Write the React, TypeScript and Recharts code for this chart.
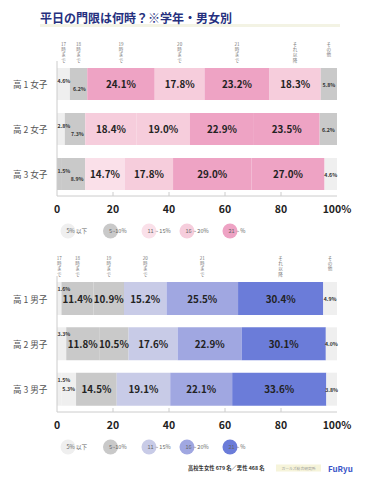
import React from 'react';
import { BarChart, Bar, XAxis, YAxis, Cell, LabelList } from 'recharts';

const headers = ['17時まで', '18時まで', '19時まで', '20時まで', '21時まで', 'それ以降', 'その他'];
const tickPercents = [0, 20, 40, 60, 80, 100];
const tickLabels = ['0', '20', '40', '60', '80', '100%'];
const legendLabels = ['5% 以下', '5~10%', '11 ~ 15%', '16 ~ 20%', '21 ~ %'];

const femaleRows = ['高 1 女子', '高 2 女子', '高 3 女子'];
const female1 = [4.6, 6.2, 24.1, 17.8, 23.2, 18.3, 5.8];
const female2 = [2.8, 7.3, 18.4, 19.0, 22.9, 23.5, 6.2];
const female3 = [1.5, 8.9, 14.7, 17.8, 29.0, 27.0, 4.6];

const maleRows = ['高 1 男子', '高 2 男子', '高 3 男子'];
const male1 = [1.6, 11.4, 10.9, 15.2, 25.5, 30.4, 4.9];
const male2 = [3.3, 11.8, 10.5, 17.6, 22.9, 30.1, 4.0];
const male3 = [1.5, 5.3, 14.5, 19.1, 22.1, 33.6, 3.8];

// shade of each segment: 0 = 5%以下, 1 = 5~10%, 2 = 11~15%, 3 = 16~20%, 4 = 21~%
const femaleShades = [[0, 1, 4, 3, 4, 3, 1], [0, 1, 3, 3, 4, 4, 1], [1, 1, 2, 3, 4, 4, 0]];
const maleShades = [[0, 1, 1, 2, 3, 4, 0], [0, 1, 1, 2, 3, 4, 0], [0, 0, 1, 2, 3, 4, 0]];

const pinkPalette = ['#efefef', '#c9c9c9', '#fae0e9', '#f6cddc', '#eea3c4'];
const bluePalette = ['#efefef', '#c9c9c9', '#c8cbe7', '#a0a7e1', '#6b7cd9'];

const FONT = "'Noto Sans CJK JP', 'Noto Sans', sans-serif";

const buildTable = (names: string[], rows: number[][]) =>
  names.map((name, r) => {
    const o: any = { name };
    rows[r].forEach((v, i) => (o['s' + i] = v));
    return o;
  });

type SmallOpts = { firstDy: number; secondAnchor: 'start' | 'end'; secondDy: number };

const makeLabel = (rows: number[][], si: number, opts: SmallOpts) => (props: any) => {
  const vb = props.viewBox || props;
  const x = Number(vb.x ?? props.x);
  const y = Number(vb.y ?? props.y);
  const width = Number(vb.width ?? props.width);
  const height = Number(vb.height ?? props.height);
  const r = props.index ?? 0;
  const v = rows[r][si];
  const cy = y + height / 2;
  const txt = v.toFixed(1) + '%';
  const parts: any[] = [];

  if (r === 0) {
    const lines = headers[si].match(/\d+|./g) || [];
    lines.forEach((ln, i) => {
      parts.push(
        <text key={'h' + i} x={x + width / 2} y={y - 22 + i * 5.2} textAnchor="middle"
          fontSize={4.6} fill="#777" fontFamily={FONT}>{ln}</text>
      );
    });
  }

  if (v < 10) {
    let tx = x + width / 2;
    let ty = cy;
    let anchor: 'start' | 'middle' | 'end' = 'middle';
    if (si === 0) {
      tx = x + 0.5;
      ty = cy + opts.firstDy;
      anchor = 'start';
    } else if (si === 1) {
      anchor = opts.secondAnchor;
      tx = anchor === 'end' ? x + width - 1.5 : x + 1;
      ty = cy + opts.secondDy;
    }
    parts.push(
      <text key="v" x={tx} y={ty} textAnchor={anchor} dominantBaseline="central"
        fontSize={5.2} fontWeight={700} fill="#333" fontFamily={FONT}>{txt}</text>
    );
  } else {
    parts.push(
      <text key="v" x={x + width / 2} y={cy} textAnchor="middle" dominantBaseline="central"
        fontSize={9.8} fontWeight={700} fill="#222" fontFamily={FONT}>{txt}</text>
    );
  }
  return <g>{parts}</g>;
};

const RowTick = (props: any) => (
  <text x={13} y={props.y} dominantBaseline="central" fontSize={8.6} fill="#555" fontFamily={FONT}>
    {props.payload.value}
  </text>
);

const PercentTick = (props: any) => {
  const i = tickPercents.indexOf(Math.round(props.payload.value * 100));
  return (
    <g>
      {i > 0 && i < tickPercents.length - 1 && (
        <line x1={props.x} x2={props.x} y1={props.y - 4} y2={props.y} stroke="#ccc" />
      )}
      <text x={props.x} y={props.y + 12.5} textAnchor="middle" dominantBaseline="central"
        fontSize={10.5} fontWeight={700} fill="#222" fontFamily={FONT}>
        {tickLabels[i]}
      </text>
    </g>
  );
};

type ChartProps = {
  names: string[];
  rows: number[][];
  shades: number[][];
  palette: string[];
  barSize: number;
  xHeight: number;
  small: SmallOpts;
};

const StackChart = ({ names, rows, shades, palette, barSize, xHeight, small }: ChartProps) => {
  const data = buildTable(names, rows);
  return (
    <BarChart width={370} height={230} data={data} layout="vertical" stackOffset="expand"
      margin={{ top: 61, right: 33, bottom: 0, left: 0 }}>
      <XAxis type="number" domain={[0, 1]} ticks={tickPercents.map((t) => t / 100)}
        tick={<PercentTick />} tickLine={false} tickSize={0} tickMargin={0}
        axisLine={{ stroke: '#ccc' }} height={xHeight} interval={0} />
      <YAxis type="category" dataKey="name" width={57} tick={<RowTick />} tickLine={false}
        axisLine={{ stroke: '#ccc' }} />
      {headers.map((h, si) => (
        <Bar key={h} dataKey={'s' + si} stackId="a" barSize={barSize} isAnimationActive={false}>
          {names.map((n, r) => (
            <Cell key={n} fill={palette[shades[r][si]]} />
          ))}
          <LabelList dataKey={'s' + si} content={makeLabel(rows, si, small)} />
        </Bar>
      ))}
    </BarChart>
  );
};

const Legend = ({ cy, palette }: { cy: number; palette: string[] }) => {
  const cxs = [68, 110.5, 149, 187, 230];
  return (
    <g>
      {legendLabels.map((l, i) => (
        <g key={l}>
          <circle cx={cxs[i]} cy={cy} r={7.5} fill={palette[i]} />
          <text x={cxs[i] - 1.5} y={cy} dominantBaseline="central" fontSize={5.6} fill="#666"
            fontFamily={FONT}>{l}</text>
        </g>
      ))}
    </g>
  );
};

export default function App() {
  return (
    <div style={{ position: 'absolute', left: 0, top: 0, width: 370, height: 482, background: '#fff', fontFamily: FONT }}>
      <svg width={370} height={482} style={{ position: 'absolute', left: 0, top: 0 }}>
        <rect x={40} y={24} width={300} height={3} fill="#f3f3e4" />
        <text x={40} y={17.5} dominantBaseline="central" fontSize={12} fontWeight={700} fill="#25307e"
          fontFamily={FONT}>平日の門限は何時？※学年・男女別</text>
        <Legend cy={231} palette={pinkPalette} />
        <Legend cy={447} palette={bluePalette} />
        <text x={188} y={468} dominantBaseline="central" fontSize={5.3} fontWeight={700} fill="#333"
          fontFamily={FONT}>高校生女性 679 名／男性 468 名</text>
        <rect x={276} y={464.5} width={45} height={7} fill="#f6f4da" />
        <text x={298.5} y={468} textAnchor="middle" dominantBaseline="central" fontSize={3.8} fill="#999"
          fontFamily={FONT}>ガールズ総合研究所</text>
        <text x={328} y={468} dominantBaseline="central" fontSize={8} fontWeight={700} fill="#3a55c8"
          fontFamily={FONT}>FuRyu</text>
      </svg>
      <div style={{ position: 'absolute', left: 0, top: 0 }}>
        <StackChart names={femaleRows} rows={[female1, female2, female3]} shades={femaleShades}
          palette={pinkPalette} barSize={32} xHeight={34}
          small={{ firstDy: -4, secondAnchor: 'end', secondDy: 4 }} />
      </div>
      <div style={{ position: 'absolute', left: 0, top: 215 }}>
        <StackChart names={maleRows} rows={[male1, male2, male3]} shades={maleShades}
          palette={bluePalette} barSize={33} xHeight={33}
          small={{ firstDy: -10, secondAnchor: 'start', secondDy: -1 }} />
      </div>
    </div>
  );
}
